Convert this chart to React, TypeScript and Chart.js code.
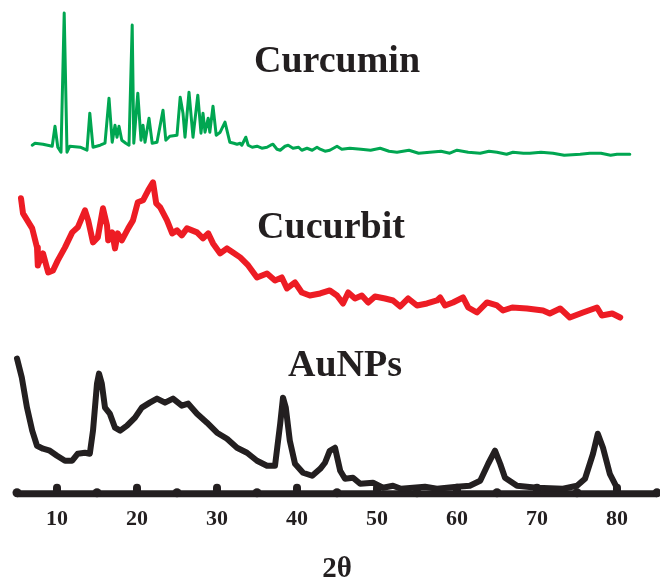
import { useEffect, useRef } from "react";
import { Chart, registerables } from "chart.js";

Chart.register(...registerables);

// X-ray diffraction patterns, stacked with vertical offsets (arbitrary units)
const curcuminTheta = [6.9, 7.25, 8.25, 9.4, 9.75, 10.1, 10.5, 10.9, 11.25, 11.6, 12.9, 13.75, 14.1, 14.5, 15.4, 16, 16.5, 16.9, 17.25, 17.5, 17.75, 18.1, 18.6, 19, 19.4, 19.6, 20.1, 20.5, 20.75, 21, 21.5, 21.9, 22.5, 23.25, 23.6, 24.1, 25, 25.4, 25.75, 26, 26.5, 27, 27.6, 28, 28.25, 28.5, 28.9, 29.1, 29.5, 29.9, 30.4, 31, 31.6, 32.1, 32.5, 32.9, 33.1, 33.6, 33.9, 34.4, 35, 35.6, 36.25, 36.7, 37, 37.5, 37.9, 38.5, 38.9, 39.5, 40.2, 40.6, 41.25, 41.9, 42.5, 42.9, 43.5, 44.1, 45, 45.6, 46.6, 48, 49.2, 50.4, 51.5, 52.5, 54, 55.2, 56.6, 58, 59.1, 60, 61.4, 62.9, 64, 65, 66.2, 67, 68.3, 69.1, 70.5, 72, 73.4, 75.4, 76.6, 78, 79.2, 80, 81.6];
const curcuminI = [348, 350, 349, 347, 367, 346, 341, 480, 341, 347, 346, 343, 380, 346, 348, 350, 395, 351, 368, 356, 367, 353, 350, 348, 468, 350, 400, 353, 368, 351, 375, 350, 351, 383, 353, 357, 358, 396, 380, 356, 401, 356, 398, 360, 380, 361, 375, 361, 387, 358, 361, 371, 351, 350, 349, 350, 348, 356, 348, 346, 347, 345, 346, 348, 349, 344, 343, 347, 348, 345, 346, 343, 345, 343, 346, 344, 342, 343, 347, 344, 345, 344, 343, 345, 342, 341, 343, 340, 341, 342, 340, 343, 341, 340, 342, 341, 339, 341, 340, 340, 341, 340, 338, 339, 340, 340, 338, 339, 339];

const cucurbitTheta = [5.5, 5.75, 6.9, 7.5, 7.6, 8.25, 8.9, 9.5, 10.1, 11, 11.9, 12.6, 13.5, 13.9, 14.5, 15.1, 15.75, 16.25, 16.4, 16.9, 17.25, 17.6, 18.1, 18.9, 19.5, 20.1, 20.75, 21.4, 22, 22.4, 22.9, 23.75, 24.4, 25, 25.6, 26.25, 27.5, 28.25, 28.9, 29.5, 30.4, 31.25, 32, 32.9, 33.9, 35, 36.25, 37.25, 38.1, 38.75, 39.75, 40.6, 41.6, 42.9, 44.1, 45, 45.75, 46.4, 47.25, 48.1, 48.9, 49.75, 51, 52, 52.9, 53.9, 55, 56.25, 57.5, 57.9, 58.5, 59.5, 60.75, 61.4, 62.5, 63.75, 65, 65.75, 66.9, 68.75, 70.75, 71.6, 72.9, 74.1, 75.75, 77.5, 78.1, 79.4, 80.4];
const cucurbitI = [295, 280, 265, 246, 228, 240, 221, 223, 233, 246, 261, 266, 283, 273, 251, 256, 285, 268, 253, 261, 245, 260, 253, 265, 273, 291, 293, 303, 311, 290, 286, 273, 260, 263, 258, 265, 261, 255, 260, 250, 240, 245, 241, 236, 228, 216, 220, 213, 216, 205, 211, 201, 198, 200, 203, 198, 190, 201, 195, 198, 191, 197, 195, 193, 187, 195, 188, 190, 193, 196, 188, 191, 196, 186, 181, 191, 188, 183, 186, 185, 183, 180, 185, 176, 181, 186, 178, 180, 176];

const aunpTheta = [5.0, 5.6, 6.25, 6.9, 7.5, 8.25, 9.1, 10, 11, 11.9, 12.6, 13.5, 14.1, 14.5, 15, 15.25, 15.6, 16, 16.6, 17.25, 17.9, 18.75, 19.75, 20.6, 21.6, 22.5, 23.5, 24.5, 25.6, 26.4, 27.5, 28.75, 30, 31.25, 32.5, 33.75, 35, 36.25, 37.25, 37.9, 38.25, 38.6, 39.1, 39.75, 40.75, 41.9, 42.9, 43.5, 44.1, 44.75, 45.4, 46, 47, 47.9, 49.5, 50.75, 52, 53, 54.5, 56, 57.5, 58.75, 60, 61.6, 62.9, 63.9, 64.75, 65.4, 66, 67.5, 70, 73.25, 75, 76, 77, 77.6, 78.25, 79.1, 80];
const aunpI = [135, 116, 86, 63, 48, 45, 43, 38, 33, 33, 40, 41, 40, 63, 110, 120, 110, 86, 80, 66, 63, 68, 76, 86, 91, 95, 91, 95, 88, 90, 80, 71, 61, 55, 46, 41, 33, 28, 28, 70, 96, 86, 53, 30, 21, 18, 25, 31, 43, 46, 23, 15, 16, 10, 11, 6, 8, 5, 6, 7, 5, 6, 7, 8, 13, 30, 43, 30, 16, 8, 6, 5, 8, 15, 40, 60, 46, 20, 6];

const sampleNames = ["Curcumin", "Cucurbit", "AuNPs"];
const sampleColors = ["#00a651", "#ed1c24", "#231f20"];
const sampleWidths = [3, 6, 6];
// label anchors in data units (2θ, intensity)
const labelTheta = [45, 44.25, 46];
const labelIntensity = [421, 255, 118];

const axisTicks = [5, 10, 15, 20, 25, 30, 35, 40, 45, 50, 55, 60, 65, 70, 75, 80, 85];
const axisLabels = ["10", "20", "30", "40", "50", "60", "70", "80"];

const INK = "#231f20";
const SERIF = "'Liberation Serif', 'Times New Roman', serif";

const toPoints = (xs: number[], ys: number[]) => xs.map((x, i) => ({ x, y: ys[i] }));

const axisPlugin = {
  id: "dottedAxis",
  beforeDatasetsDraw(chart: any) {
    const { ctx, scales } = chart;
    const xs = scales.x;
    const y0 = scales.y.getPixelForValue(0);
    ctx.save();
    ctx.fillStyle = INK;
    ctx.strokeStyle = INK;
    ctx.lineWidth = 7;
    ctx.lineCap = "butt";
    ctx.beginPath();
    ctx.moveTo(xs.getPixelForValue(axisTicks[0]), y0);
    ctx.lineTo(xs.getPixelForValue(axisTicks[axisTicks.length - 1]), y0);
    ctx.stroke();
    axisTicks.forEach((v) => {
      const px = xs.getPixelForValue(v);
      const labelled = axisLabels.includes(String(v));
      ctx.beginPath();
      if (labelled) {
        ctx.rect(px - 4, y0 - 6, 8, 6);
        ctx.fill();
        ctx.beginPath();
        ctx.arc(px, y0 - 6, 4, 0, Math.PI * 2);
      } else {
        ctx.arc(px, y0 - 1, 4.5, 0, Math.PI * 2);
      }
      ctx.fill();
    });
    ctx.restore();
  },
};

const labelPlugin = {
  id: "sampleLabels",
  afterDatasetsDraw(chart: any) {
    const { ctx, scales } = chart;
    ctx.save();
    ctx.fillStyle = INK;
    ctx.font = `bold 38px ${SERIF}`;
    ctx.textAlign = "center";
    ctx.textBaseline = "alphabetic";
    sampleNames.forEach((name, i) => {
      ctx.fillText(name, scales.x.getPixelForValue(labelTheta[i]), scales.y.getPixelForValue(labelIntensity[i]));
    });
    ctx.restore();
  },
};

export default function App() {
  const canvasRef = useRef<HTMLCanvasElement | null>(null);

  useEffect(() => {
    document.body.style.margin = "0";
    const canvas = canvasRef.current;
    if (!canvas) return;
    const series = [
      toPoints(curcuminTheta, curcuminI),
      toPoints(cucurbitTheta, cucurbitI),
      toPoints(aunpTheta, aunpI),
    ];
    const chart = new Chart(canvas, {
      type: "line",
      data: {
        datasets: series.map((data, i) => ({
          label: sampleNames[i],
          data,
          borderColor: sampleColors[i],
          borderWidth: sampleWidths[i],
          pointRadius: 0,
          tension: 0,
          fill: false,
          borderJoinStyle: "round" as const,
          borderCapStyle: "round" as const,
          clip: false as any,
        })),
      },
      options: {
        animation: false,
        responsive: false,
        devicePixelRatio: 1,
        layout: { padding: { left: 17, right: 3, top: 10, bottom: 0 } },
        plugins: { legend: { display: false }, tooltip: { enabled: false } },
        scales: {
          x: {
            type: "linear",
            min: 5,
            max: 85,
            grid: { display: false, drawTicks: false },
            border: { display: false },
            afterBuildTicks: (scale: any) => {
              scale.ticks = axisTicks.map((value) => ({ value }));
            },
            afterFit: (scale: any) => {
              scale.paddingLeft = 0;
              scale.paddingRight = 0;
            },
            ticks: {
              autoSkip: false,
              maxRotation: 0,
              padding: 12,
              color: INK,
              font: { family: SERIF, size: 22, weight: "bold" },
              callback: (v: any) => (axisLabels.includes(String(v)) ? String(v) : ""),
            },
            title: {
              display: true,
              text: "2θ",
              color: INK,
              font: { family: SERIF, size: 29, weight: "bold" },
              padding: { top: 8, bottom: 0 },
            },
          },
          y: {
            type: "linear",
            min: 0,
            max: 483,
            display: false,
          },
        },
      },
      plugins: [axisPlugin, labelPlugin],
    });
    return () => chart.destroy();
  }, []);

  return (
    <div style={{ width: 660, height: 587 }}>
      <canvas ref={canvasRef} width={660} height={587} />
    </div>
  );
}
